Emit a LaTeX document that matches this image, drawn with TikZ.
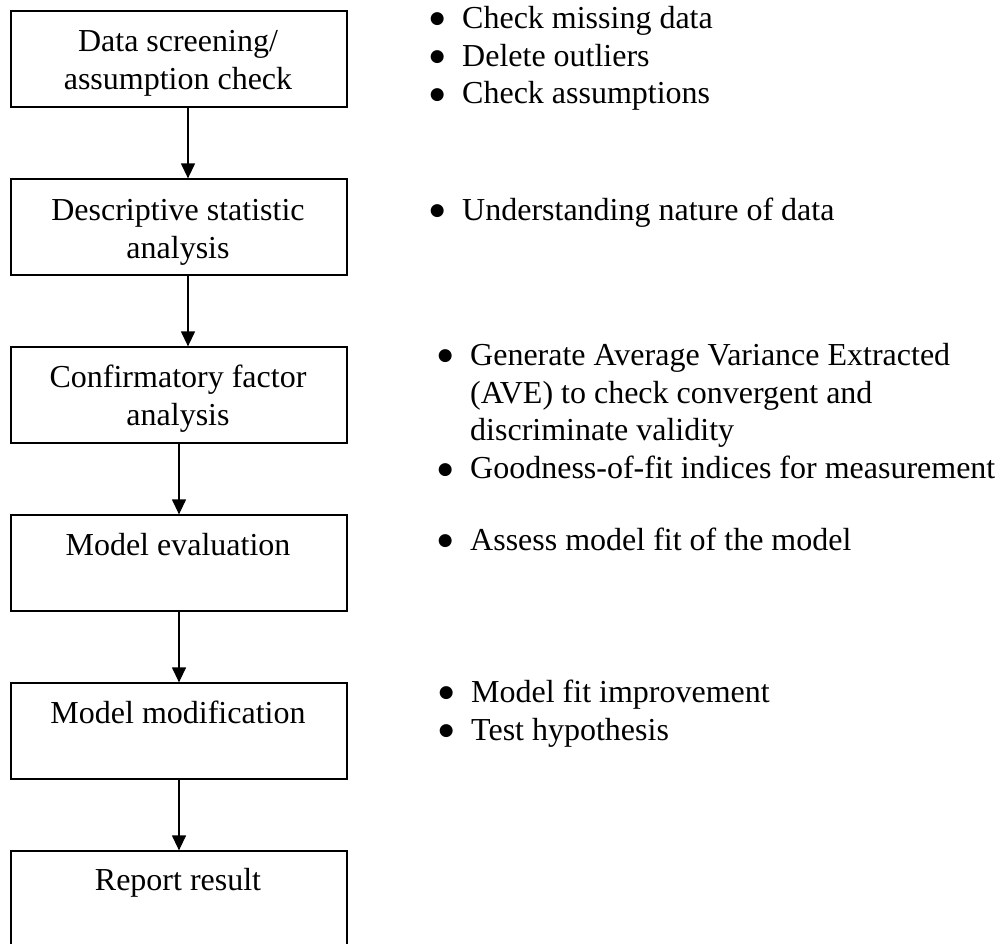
\documentclass[tikz,border=0pt]{standalone}
\usepackage{fontspec}
\setmainfont{Liberation Serif}
\newfontfamily\symfont{DejaVu Sans}
\usetikzlibrary{arrows.meta}
\newcommand{\bul}{\llap{\makebox[0pt]{\raisebox{4.4pt}{\symfont\fontsize{17}{17}\selectfont ●}}\hspace{25pt}}}
\newcommand{\tl}{\rule{0pt}{24pt}}
\begin{document}
\begin{tikzpicture}[x=1pt,y=-1pt,
  stepbox/.style={draw,line width=1.3pt,minimum width=336pt,minimum height=96pt,inner sep=0pt},
  boxtext/.style={anchor=north,align=center,inner sep=0pt,font=\fontsize{32}{38}\selectfont},
  note/.style={anchor=north west,align=left,inner sep=0pt,font=\fontsize{32}{37.8}\selectfont},
  arr/.style={line width=1.3pt,-{Triangle[length=15pt,width=14pt]}}]
\useasboundingbox (0,0) rectangle (1000,943);
% boxes
\node[stepbox] (b1) at (179,59) {};
\node[stepbox] (b2) at (179,227) {};
\node[stepbox] (b3) at (179,395) {};
\node[stepbox] (b4) at (179,563) {};
\node[stepbox] (b5) at (179,731) {};
\node[stepbox] (b6) at (179,899) {};
% box texts
\node[boxtext] (t1) at (178,27) {\tl Data screening/\\assumption check};
\node[boxtext] (t2) at (178,196) {\tl Descriptive statistic\\analysis};
\node[boxtext] (t3) at (178,363) {\tl Confirmatory factor\\analysis};
\node[boxtext] (t4) at (178,531) {\tl Model evaluation};
\node[boxtext] (t5) at (178,699) {\tl Model modification};
\node[boxtext] (t6) at (178,866) {\tl Report result};
% arrows
\draw[arr] ([xshift=9pt]b1.south) -- ([xshift=9pt]b2.north);
\draw[arr] ([xshift=9pt]b2.south) -- ([xshift=9pt]b3.north);
\draw[arr] (b3.south) -- (b4.north);
\draw[arr] (b4.south) -- (b5.north);
\draw[arr] (b5.south) -- (b6.north);
% notes
\node[note] (n1) at (462,4) {\tl\bul Check missing data\\\bul Delete outliers\\\bul Check assumptions};
\node[note] (n2) at (462,196) {\tl\bul Understanding nature of data};
\node[note] (n3) at (470,341) {\tl\bul Generate Average Variance Extracted\\(AVE) to check convergent and\\discriminate validity\\\bul Goodness-of-fit indices for measurement};
\node[note] (n4) at (470,526) {\tl\bul Assess model fit of the model};
\node[note] (n5) at (471,678) {\tl\bul Model fit improvement\\\bul Test hypothesis};
\end{tikzpicture}
\end{document}
